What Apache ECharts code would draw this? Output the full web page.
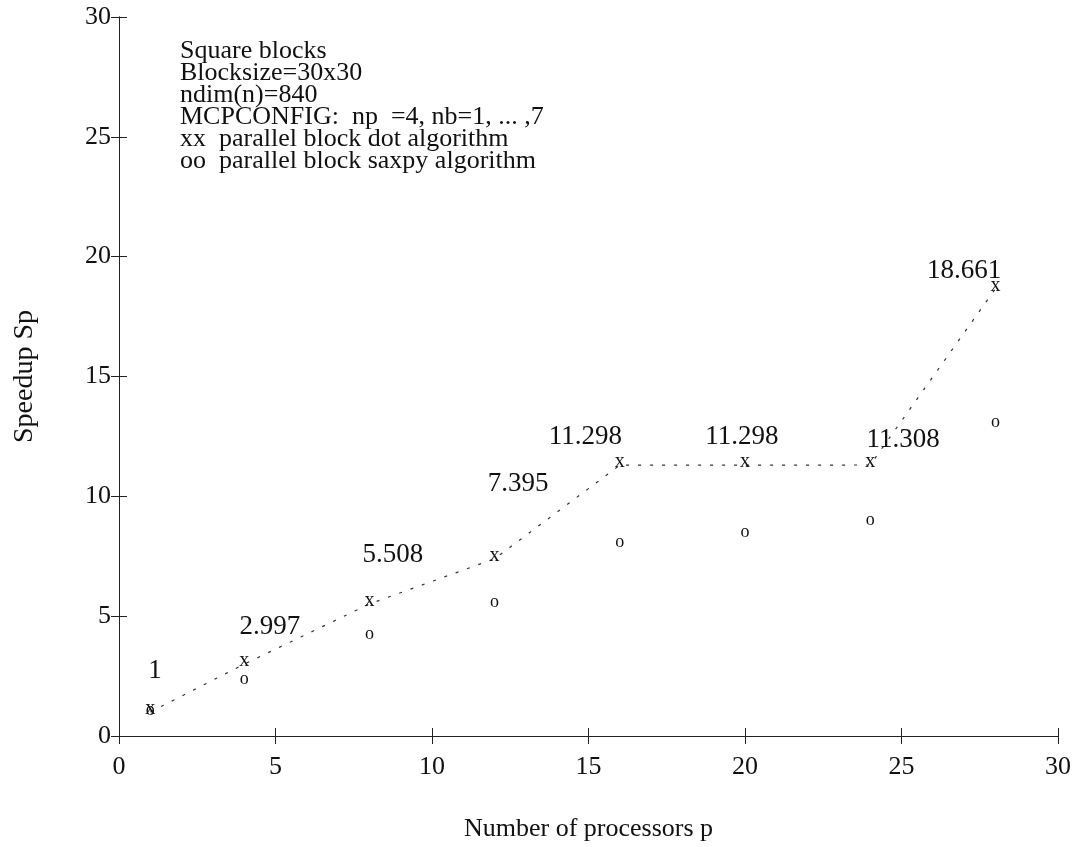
<!DOCTYPE html>
<html><head><meta charset="utf-8">
<script src="https://cdn.jsdelivr.net/npm/echarts@6/dist/echarts.min.js"></script>
<style>html,body{margin:0;padding:0;background:#fff}#c{width:1083px;height:847px}</style>
</head><body><div id="c"></div>
<script>
const processors = [1, 4, 8, 12, 16, 20, 24, 28];
const dotSpeedup = [1, 2.997, 5.508, 7.395, 11.298, 11.298, 11.308, 18.661];
const saxpySpeedup = [1, 2.3, 4.15, 5.5, 8.0, 8.4, 8.9, 13.0];
const annoText = ['1', '2.997', '5.508', '7.395', '11.298', '11.298', '11.308', '18.661'];
const annoX = [1.15, 4.82, 8.75, 12.75, 14.9, 19.9, 25.05, 27.0];
const annoY = [2.7, 4.56, 7.55, 10.5, 12.5, 12.5, 12.35, 19.4];
const xTicks = [0, 5, 10, 15, 20, 25, 30];
const yTicks = [0, 5, 10, 15, 20, 25, 30];
const infoLines = [
  'Square blocks',
  'Blocksize=30x30',
  'ndim(n)=840',
  'MCPCONFIG:  np  =4, nb=1, ... ,7',
  'xx  parallel block dot algorithm',
  'oo  parallel block saxpy algorithm'
];
const xTitle = 'Number of processors p';
const yTitle = 'Speedup Sp';

const FONT = 'Liberation Serif';
const INK = '#111';
const chart = echarts.init(document.getElementById('c'), null, {renderer: 'canvas'});
const axCommon = {
  min: 0, max: 30, interval: 5,
  axisLine: {show: true, lineStyle: {color: '#222', width: 1}},
  axisTick: {show: true, inside: true, length: 8, lineStyle: {color: '#222'}},
  splitLine: {show: false}
};
const hiddenItem = {color: 'rgba(0,0,0,0)', opacity: 1};
chart.setOption({
  animation: false,
  backgroundColor: '#fff',
  grid: {left: 119, right: 25, top: 17, bottom: 107, containLabel: false},
  xAxis: [
    Object.assign({}, axCommon, {type: 'value', position: 'bottom',
      name: xTitle, nameLocation: 'middle', nameGap: 80,
      nameTextStyle: {fontFamily: FONT, fontSize: 26, color: INK},
      axisLabel: {fontFamily: FONT, fontSize: 26, color: INK, margin: 18,
        formatter: v => xTicks.includes(v) ? String(v) : ''}}),
    Object.assign({}, axCommon, {type: 'value', position: 'top', axisLabel: {show: false}})
  ],
  yAxis: [
    Object.assign({}, axCommon, {type: 'value', position: 'left',
      name: yTitle, nameLocation: 'middle', nameGap: 80,
      nameTextStyle: {fontFamily: FONT, fontSize: 28, color: INK},
      axisLabel: {fontFamily: FONT, fontSize: 26, color: INK, margin: 8,
        formatter: v => yTicks.includes(v) ? String(v) : ''}}),
    Object.assign({}, axCommon, {type: 'value', position: 'right', axisLabel: {show: false}})
  ],
  series: [
    {
      type: 'line', name: 'dot',
      data: processors.map((p, i) => [p, dotSpeedup[i]]),
      symbol: 'none',
      lineStyle: {color: '#333', width: 1.2, type: [3, 9]},
      z: 2
    },
    {
      type: 'scatter', name: 'dot-marks',
      data: processors.map((p, i) => [p, dotSpeedup[i]]),
      symbolSize: 1, itemStyle: hiddenItem,
      label: {show: true, position: 'inside', formatter: 'x',
        fontFamily: FONT, fontSize: 20, color: INK, offset: [0, -3]},
      z: 4
    },
    {
      type: 'scatter', name: 'saxpy-marks',
      data: processors.map((p, i) => [p, saxpySpeedup[i]]),
      symbolSize: 1, itemStyle: hiddenItem,
      label: {show: true, position: 'inside', formatter: 'o',
        fontFamily: FONT, fontSize: 18, color: INK, offset: [0, -2]},
      z: 4
    },
    {
      type: 'scatter', name: 'annotations',
      data: annoX.map((x, i) => ({value: [x, annoY[i]], text: annoText[i]})),
      symbolSize: 1, itemStyle: hiddenItem,
      label: {show: true, position: 'inside',
        formatter: p => p.data.text,
        fontFamily: FONT, fontSize: 27, color: INK},
      z: 5
    }
  ],
  graphic: [{
    type: 'text', left: 180, top: 38,
    style: {text: infoLines.join('\n'), fontFamily: FONT, fontSize: 26,
      lineHeight: 22, fill: INK}
  }]
});
</script></body></html>
